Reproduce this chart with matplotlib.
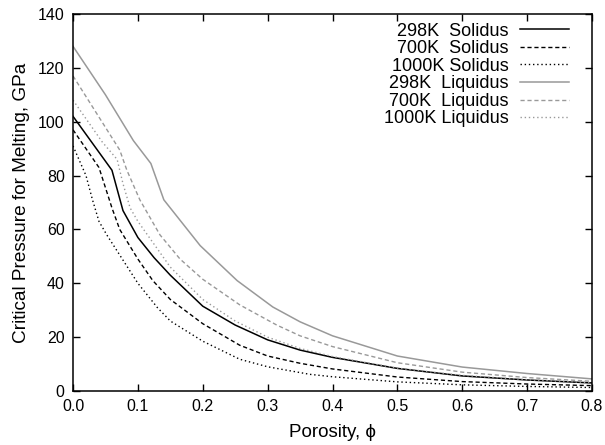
import matplotlib
matplotlib.use("Agg")
import matplotlib.pyplot as plt

plt.rcParams['font.family'] = ['Liberation Sans', 'DejaVu Sans']

# 298K Solidus
x_s298 = [0.0, 0.06, 0.077, 0.1, 0.125, 0.15, 0.2, 0.25, 0.3, 0.35, 0.4, 0.5, 0.6, 0.7, 0.8]
y_s298 = [102, 82, 67, 57, 49.5, 43, 31.5, 24.5, 19, 15.2, 12.5, 8.4, 5.6, 4.1, 3.0]
# 700K Solidus
x_s700 = [0.0, 0.04, 0.06, 0.072, 0.1, 0.123, 0.15, 0.2, 0.257, 0.3, 0.35, 0.4, 0.5, 0.6, 0.7, 0.8]
y_s700 = [97, 83, 68, 60, 49, 41, 34, 25, 17, 13, 10.3, 8.2, 5.2, 3.5, 2.6, 2.0]
# 1000K Solidus
x_s1000 = [0.0, 0.02, 0.03, 0.04, 0.052, 0.1, 0.13, 0.15, 0.2, 0.257, 0.3, 0.365, 0.4, 0.5, 0.6, 0.7, 0.8]
y_s1000 = [91, 80, 71, 63, 58, 40, 31, 26, 18.5, 11.8, 9, 6.2, 5.3, 3.4, 2.3, 1.7, 1.3]
# 298K Liquidus
x_l298 = [0.0, 0.05, 0.093, 0.12, 0.14, 0.196, 0.253, 0.308, 0.35, 0.4, 0.5, 0.6, 0.7, 0.8]
y_l298 = [128, 110, 93, 84.5, 71, 54, 41, 31.2, 25.7, 20.5, 13, 8.9, 6.5, 4.5]
# 700K Liquidus
x_l700 = [0.0, 0.072, 0.083, 0.103, 0.134, 0.165, 0.2, 0.257, 0.314, 0.35, 0.4, 0.5, 0.6, 0.7, 0.8]
y_l700 = [117, 89.5, 82, 71, 58, 49, 41.5, 32, 24.5, 20.5, 16.5, 10.5, 7.0, 5.0, 3.6]
# 1000K Liquidus
x_l1000 = [0.0, 0.045, 0.068, 0.077, 0.088, 0.1, 0.15, 0.2, 0.25, 0.3, 0.35, 0.4, 0.5, 0.6, 0.7, 0.8]
y_l1000 = [108, 92.5, 86, 77, 68, 63, 46, 34, 26, 20, 15.8, 12.8, 8.5, 5.8, 4.2, 3.1]

labels = ["298K  Solidus", "700K  Solidus", "1000K Solidus",
          "298K  Liquidus", "700K  Liquidus", "1000K Liquidus"]
x_ticks = [0.0, 0.1, 0.2, 0.3, 0.4, 0.5, 0.6, 0.7, 0.8]
y_ticks = [0, 20, 40, 60, 80, 100, 120, 140]

fig = plt.figure(figsize=(6.05, 4.45), dpi=100)
ax = fig.add_axes([0.1207, 0.1213, 0.8578, 0.8472])

black = '#000000'
gray = '#999999'
ax.plot(x_s298, y_s298, color=black, lw=1.1, label=labels[0])
ax.plot(x_s700, y_s700, color=black, lw=1.0, dashes=(3, 2), label=labels[1])
ax.plot(x_s1000, y_s1000, color=black, lw=1.0, dashes=(1, 2), label=labels[2])
ax.plot(x_l298, y_l298, color=gray, lw=1.1, label=labels[3])
ax.plot(x_l700, y_l700, color=gray, lw=1.0, dashes=(3, 2), label=labels[4])
ax.plot(x_l1000, y_l1000, color=gray, lw=1.0, dashes=(1, 2), label=labels[5])

ax.set_xlim(0, 0.8)
ax.set_ylim(0, 140)
ax.set_xticks(x_ticks)
ax.set_xticklabels([f"{v:.1f}" for v in x_ticks])
ax.set_yticks(y_ticks)
ax.tick_params(direction='in', top=True, right=True, length=5, width=1,
               labelsize=11.5, pad=6)
for s in ax.spines.values():
    s.set_linewidth(1.1)

ax.set_xlabel("Porosity, \u03d5", fontsize=13.5, labelpad=7)
ax.set_ylabel("Critical Pressure for Melting, GPa", fontsize=13.7, labelpad=6)

leg = ax.legend(loc='upper right', bbox_to_anchor=(0.956, 0.977),
                frameon=False, markerfirst=False,
                fontsize=13, handlelength=2.75, labelspacing=0.03,
                handletextpad=0.6, borderaxespad=0.0, borderpad=0.0)

fig.savefig("out.png", dpi=100)
